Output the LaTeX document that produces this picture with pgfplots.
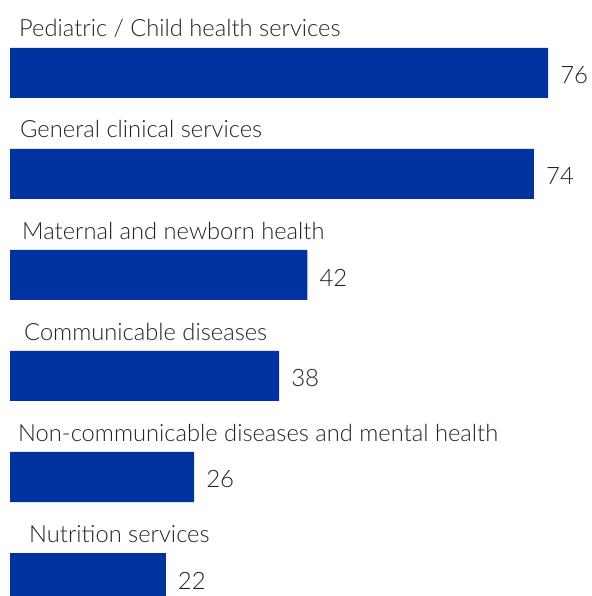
\documentclass[border=0pt]{standalone}
\usepackage{fontspec}
\setmainfont{Lato Light}
\usepackage{pgfplots}
\pgfplotsset{compat=1.18}
\definecolor{barblue}{HTML}{0033A0}
\definecolor{txt}{HTML}{222222}
\begin{document}
\begin{tikzpicture}
\begin{axis}[
  scale only axis, width=592pt, height=596pt,
  axis line style={draw=none}, xtick=\empty, ytick=\empty,
  clip=true,
  xmin=-1.4124, xmax=82.20,
  ymin=-0.1782, ymax=5.7228,
  xbar, bar width=50pt, bar shift=0pt,
  nodes near coords,
  every node near coord/.append style={font=\fontsize{24}{24}\selectfont, text=txt, anchor=west, inner sep=0pt, xshift=12pt, yshift=-2.5pt},
  /pgf/number format/assume math mode=true,
]
\addplot[fill=barblue, draw=none] coordinates {(76,5) (74,4) (42,3) (38,2) (26,1) (22,0)};
\begin{scope}[every node/.style={anchor=base west, inner sep=0pt, font=\fontsize{23.7}{24}\selectfont, text=txt}]
\node at (axis cs:1.271,5.3564) {Pediatric / Child health services};
\node at (axis cs:1.412,4.3564) {General clinical services};
\node at (axis cs:1.695,3.3564) {Maternal and newborn health};
\node at (axis cs:1.977,2.3564) {Communicable diseases};
\node at (axis cs:1.130,1.3564) {Non-communicable diseases and mental health};
\node at (axis cs:2.684,0.3564) {Nutrition services};
\end{scope}
\end{axis}
\end{tikzpicture}
\end{document}
